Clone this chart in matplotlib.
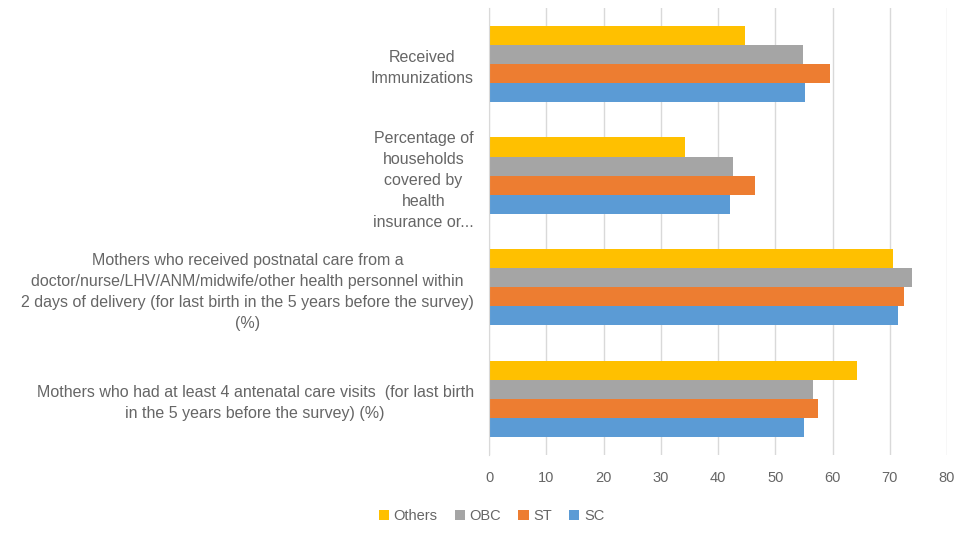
import numpy as np
import matplotlib.pyplot as plt

plt.rcParams['font.family'] = ['Liberation Sans', 'DejaVu Sans']

# categories, bottom to top as drawn
categories = [
    'Mothers who had at least 4 antenatal care visits  (for last birth\nin the 5 years before the survey) (%)',
    'Mothers who received postnatal care from a\ndoctor/nurse/LHV/ANM/midwife/other health personnel within\n2 days of delivery (for last birth in the 5 years before the survey)\n(%)',
    'Percentage of\nhouseholds\ncovered by\nhealth\ninsurance or...',
    'Received\nImmunizations',
]

sc = [55.0, 71.5, 42.1, 55.2]
st = [57.5, 72.4, 46.5, 59.6]
obc = [56.6, 73.9, 42.6, 54.9]
others = [64.3, 70.6, 34.2, 44.7]

series = [('SC', sc, '#5B9BD5'), ('ST', st, '#ED7D31'),
          ('OBC', obc, '#A5A5A5'), ('Others', others, '#FFC000')]

fig = plt.figure(figsize=(9.73, 5.44), dpi=100)
ax = fig.add_axes([0.5026, 0.164, 0.4707, 0.821])

y = np.arange(len(categories))
h = 0.171
bars = {}
for i, (name, vals, col) in enumerate(series):
    bars[name] = ax.barh(y + (i - 1.5) * h, vals, height=h, color=col, label=name)

ax.set_xlim(0, 80)
ax.set_ylim(-0.5, 3.5)
ax.set_xticks(np.arange(0, 81, 10))
ax.set_yticks(y)
ax.set_yticklabels(categories, ha='right', multialignment='center', linespacing=1.5)
ax.tick_params(axis='y', length=0, pad=11, labelsize=11.5, labelcolor='#666666')
ax.tick_params(axis='x', length=0, pad=12, labelsize=10.5, labelcolor='#666666')

ax.grid(axis='x', color='#d9d9d9', linewidth=1)
ax.set_axisbelow(True)
for s in ['top', 'right', 'bottom']:
    ax.spines[s].set_visible(False)
ax.spines['left'].set_color('#d9d9d9')

handles = [bars['Others'], bars['OBC'], bars['ST'], bars['SC']]
fig.legend(handles, ['Others', 'OBC', 'ST', 'SC'], loc='center',
           bbox_to_anchor=(0.505, 0.051), ncol=4, frameon=False, fontsize=10.5,
           handlelength=0.7, handleheight=0.7, handletextpad=0.3, columnspacing=1.2,
           labelcolor='#666666')

fig.savefig('out.png', dpi=100)
